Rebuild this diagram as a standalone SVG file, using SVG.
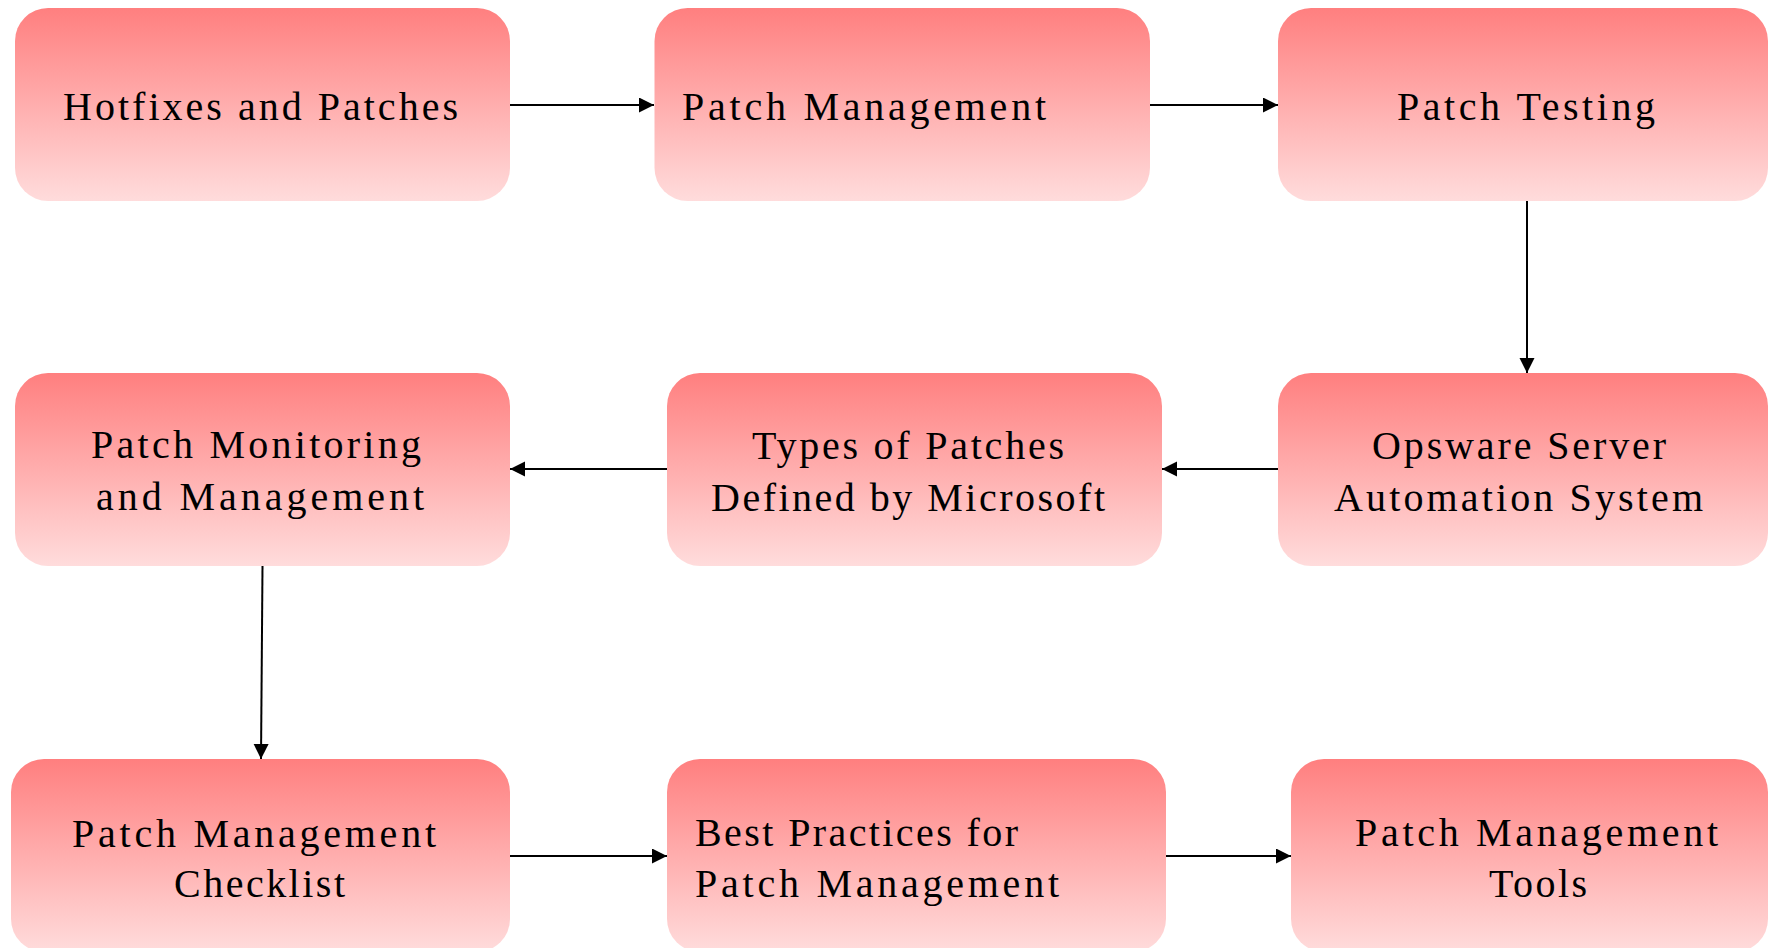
<svg xmlns="http://www.w3.org/2000/svg" width="1769" height="948" viewBox="0 0 1769 948">
<defs>
<linearGradient id="g" x1="0" y1="0" x2="0" y2="1">
<stop offset="0" stop-color="#FF7F7F"/>
<stop offset="1" stop-color="#FFDCDC"/>
</linearGradient>
<marker id="ah" markerUnits="userSpaceOnUse" markerWidth="16" markerHeight="16" refX="15" refY="7.5" orient="auto">
<path d="M0,0 L15,7.5 L0,15 z" fill="#000"/>
</marker>
</defs>
<style>
.box{fill:url(#g);}
.t{font-family:"Liberation Serif","Times New Roman",serif;font-size:40px;fill:#000;}
.c{stroke:#000;stroke-width:2;fill:none;marker-end:url(#ah);}
</style>
<rect width="1769" height="948" fill="#fff"/>
<g id="connectors">
<line class="c" x1="510" y1="105" x2="654" y2="105"/>
<line class="c" x1="1150" y1="105" x2="1278" y2="105"/>
<line class="c" x1="1527" y1="201" x2="1527" y2="373"/>
<line class="c" x1="1278" y1="469" x2="1162" y2="469"/>
<line class="c" x1="667" y1="469" x2="510" y2="469"/>
<line class="c" x1="262.5" y1="566" x2="261" y2="759"/>
<line class="c" x1="510" y1="856" x2="667" y2="856"/>
<line class="c" x1="1166" y1="856" x2="1291" y2="856"/>
</g>
<g id="n1">
<rect class="box" x="15" y="8" width="495" height="193" rx="33"/>
<text class="t" x="63" y="120" textLength="395" lengthAdjust="spacing">Hotfixes and Patches</text>
</g>
<g id="n2">
<rect class="box" x="654.5" y="8" width="495.5" height="193" rx="33"/>
<text class="t" x="682" y="120" textLength="364" lengthAdjust="spacing">Patch Management</text>
</g>
<g id="n3">
<rect class="box" x="1278" y="8" width="490" height="193" rx="33"/>
<text class="t" x="1397" y="120" textLength="258" lengthAdjust="spacing">Patch Testing</text>
</g>
<g id="n4">
<rect class="box" x="15" y="373" width="495" height="193" rx="33"/>
<text class="t" x="91" y="458" textLength="330" lengthAdjust="spacing">Patch Monitoring</text>
<text class="t" x="96" y="510" textLength="328" lengthAdjust="spacing">and Management</text>
</g>
<g id="n5">
<rect class="box" x="667" y="373" width="495" height="193" rx="33"/>
<text class="t" x="752" y="459" textLength="312" lengthAdjust="spacing">Types of Patches</text>
<text class="t" x="711" y="511" textLength="394" lengthAdjust="spacing">Defined by Microsoft</text>
</g>
<g id="n6">
<rect class="box" x="1278" y="373" width="490" height="193" rx="33"/>
<text class="t" x="1372" y="459" textLength="294" lengthAdjust="spacing">Opsware Server</text>
<text class="t" x="1334" y="511" textLength="369" lengthAdjust="spacing">Automation System</text>
</g>
<g id="n7">
<rect class="box" x="11" y="759" width="499" height="193" rx="33"/>
<text class="t" x="72" y="847" textLength="364" lengthAdjust="spacing">Patch Management</text>
<text class="t" x="174" y="897" textLength="171" lengthAdjust="spacing">Checklist</text>
</g>
<g id="n8">
<rect class="box" x="667" y="759" width="499" height="193" rx="33"/>
<text class="t" x="695" y="846" textLength="323" lengthAdjust="spacing">Best Practices for</text>
<text class="t" x="695" y="897" textLength="364" lengthAdjust="spacing">Patch Management</text>
</g>
<g id="n9">
<rect class="box" x="1291" y="759" width="477" height="193" rx="33"/>
<text class="t" x="1355" y="846" textLength="363" lengthAdjust="spacing">Patch Management</text>
<text class="t" x="1489" y="897" textLength="98" lengthAdjust="spacing">Tools</text>
</g>
</svg>
